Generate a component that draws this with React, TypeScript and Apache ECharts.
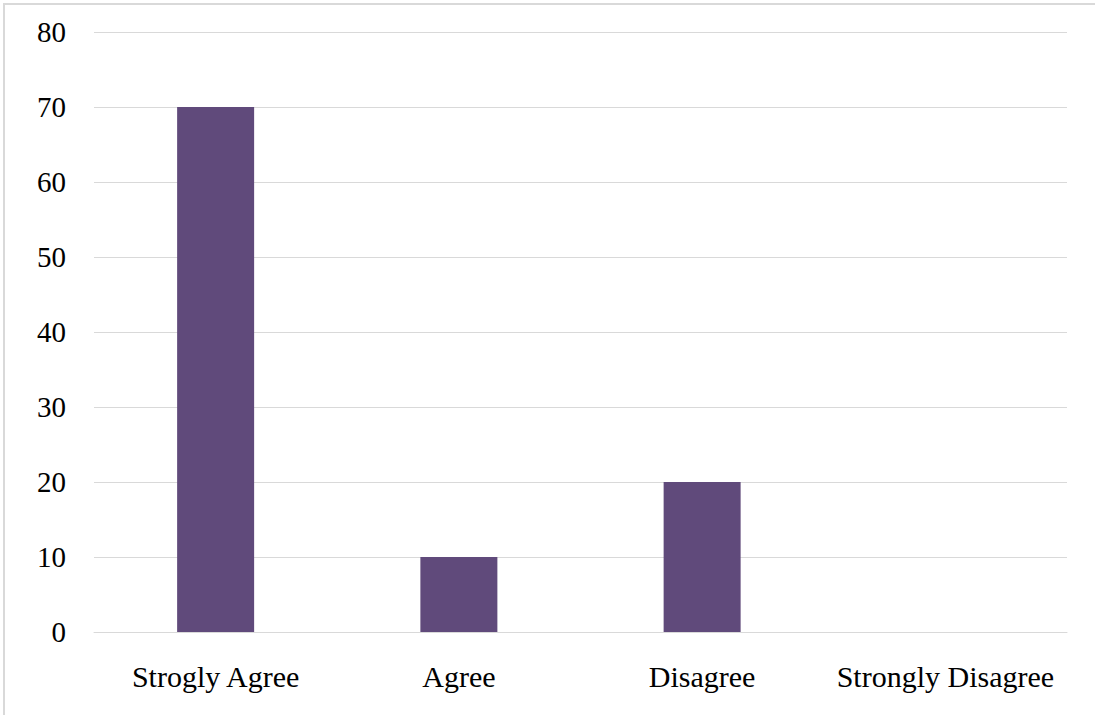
import React, { useEffect, useRef } from "react";
import * as echarts from "echarts";

const categories = ["Strogly Agree", "Agree", "Disagree", "Strongly Disagree"];
const responses = [70, 10, 20, 0];
const yMin = 0;
const yMax = 80;
const yStep = 10;

export default function App() {
  const ref = useRef<HTMLDivElement>(null);

  useEffect(() => {
    if (!ref.current) return;
    const chart = echarts.init(ref.current, undefined, { renderer: "svg" });
    const font = '"Liberation Serif", "Times New Roman", serif';
    chart.setOption({
      animation: false,
      backgroundColor: "#ffffff",
      textStyle: { fontFamily: font },
      graphic: [
        {
          type: "rect",
          shape: { x: 4, y: 4, width: 1200, height: 800 },
          style: { fill: "none", stroke: "#d9d9d9", lineWidth: 2 },
          silent: true,
        },
      ],
      grid: { left: 94, right: 28, top: 32, bottom: 83, containLabel: false },
      xAxis: {
        type: "category",
        data: categories,
        axisLine: { show: true, lineStyle: { color: "#d9d9d9", width: 1 } },
        axisTick: { show: false },
        axisLabel: {
          color: "#000000",
          fontSize: 30,
          fontFamily: font,
          margin: 29,
          interval: 0,
        },
      },
      yAxis: {
        type: "value",
        min: yMin,
        max: yMax,
        interval: yStep,
        axisLine: { show: false },
        axisTick: { show: false },
        splitLine: { show: true, lineStyle: { color: "#d9d9d9", width: 1 } },
        axisLabel: {
          color: "#000000",
          fontSize: 29,
          fontFamily: font,
          margin: 28,
        },
      },
      series: [
        {
          type: "bar",
          data: responses,
          barWidth: 77,
          itemStyle: { color: "#604a7b" },
        },
      ],
    });
    return () => chart.dispose();
  }, []);

  return (
    <div
      ref={ref}
      style={{ position: "fixed", left: 0, top: 0, width: 1095, height: 715 }}
    />
  );
}
